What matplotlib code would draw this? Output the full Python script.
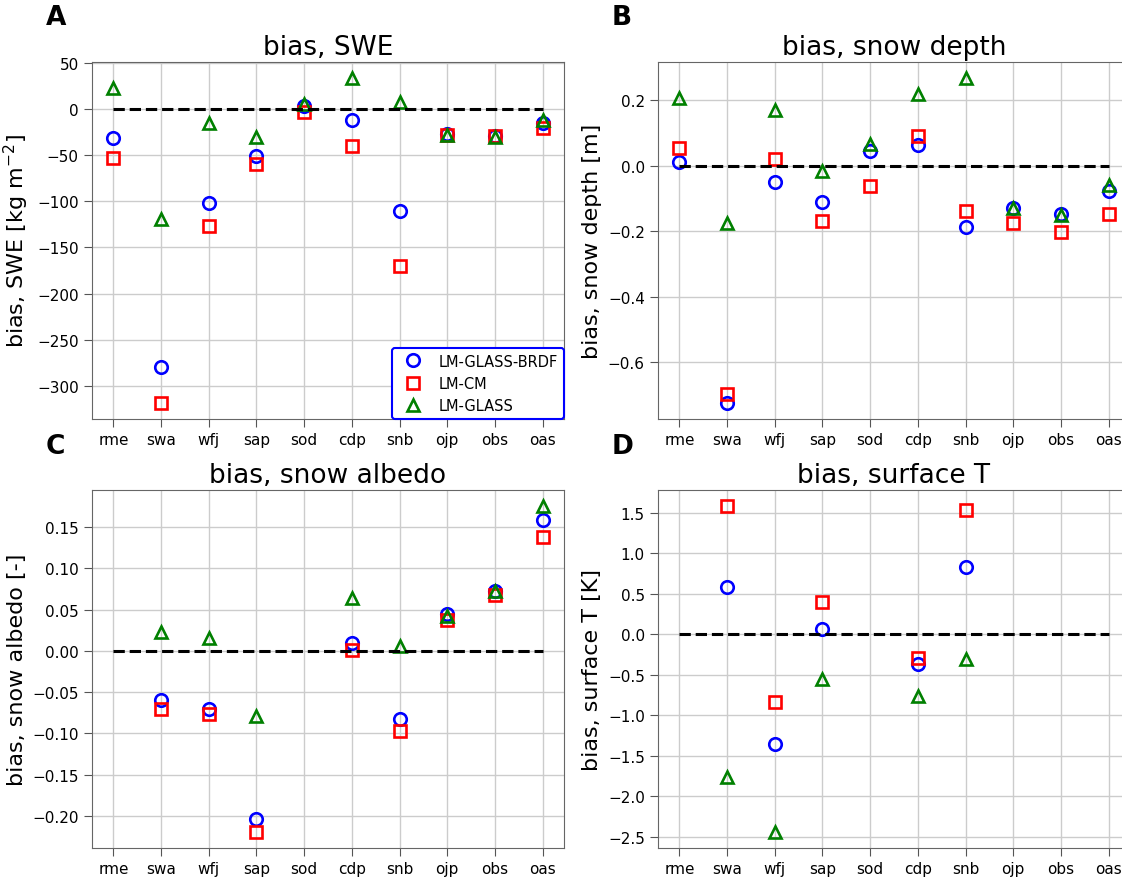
import numpy as np
import matplotlib.pyplot as plt

# sites and model runs
sites = ["rme", "swa", "wfj", "sap", "sod", "cdp", "snb", "ojp", "obs", "oas"]
runs = ["LM-GLASS-BRDF", "LM-CM", "LM-GLASS"]
nan = np.nan

# bias, SWE [kg m-2]
swe_brdf = [-31.6, -279, -102, -50.7, 3, -12.6, -111, -27, -30, -15]
swe_cm = [-53, -318, -126.5, -60, -3, -40, -170, -28, -30, -21]
swe_glass = [22, -119, -15, -30.5, 5, 33, 7, -28, -30.5, -12]

# bias, snow depth [m]
sd_brdf = [0.012, -0.723, -0.051, -0.11, 0.046, 0.063, -0.188, -0.129, -0.147, -0.078]
sd_cm = [0.054, -0.696, 0.02, -0.167, -0.063, 0.091, -0.138, -0.176, -0.203, -0.148]
sd_glass = [0.207, -0.175, 0.17, -0.017, 0.066, 0.218, 0.267, -0.129, -0.15, -0.058]

# bias, snow albedo [-]
alb_brdf = [nan, -0.060, -0.070, -0.203, nan, 0.010, -0.083, 0.044, 0.073, 0.158]
alb_cm = [nan, -0.070, -0.076, -0.219, nan, 0.001, -0.097, 0.037, 0.067, 0.138]
alb_glass = [nan, 0.023, 0.015, -0.079, nan, 0.064, 0.006, 0.042, 0.072, 0.175]

# bias, surface T [K]
ts_brdf = [nan, 0.58, -1.356, 0.058, nan, -0.374, 0.826, nan, nan, nan]
ts_cm = [nan, 1.58, -0.838, 0.395, nan, -0.288, 1.533, nan, nan, nan]
ts_glass = [nan, -1.763, -2.44, -0.555, nan, -0.768, -0.312, nan, nan, nan]

panels = [
    ("A", "bias, SWE", r"bias, SWE [kg m$^{-2}$]", swe_brdf, swe_cm, swe_glass),
    ("B", "bias, snow depth", "bias, snow depth [m]", sd_brdf, sd_cm, sd_glass),
    ("C", "bias, snow albedo", "bias, snow albedo [-]", alb_brdf, alb_cm, alb_glass),
    ("D", "bias, surface T", "bias, surface T [K]", ts_brdf, ts_cm, ts_glass),
]

W, H = 1122, 879
fig = plt.figure(figsize=(W / 100, H / 100), dpi=100)

# axes boxes in pixels: left, top, width, height
boxes = [(92, 63, 472, 357), (658, 63, 472, 357), (92, 491, 472, 358), (658, 491, 472, 358)]
letter_pos = [(46, 18), (612, 18), (46, 447), (612, 447)]

x = np.arange(len(sites))
styles = [("o", "blue"), ("s", "red"), ("^", "green")]

for (letter, title, ylabel, *series), (l, t, w, h), (lx, ly) in zip(panels, boxes, letter_pos):
    ax = fig.add_axes([l / W, 1 - (t + h) / H, w / W, h / H])
    for vals, (m, c), name in zip(series, styles, runs):
        ax.plot(x, vals, linestyle="none", marker=m, markersize=9, markerfacecolor="none",
                markeredgecolor=c, markeredgewidth=1.9, label=name)
    ax.plot(x, np.zeros(len(x)), "k--", lw=2.2)
    ax.set_xticks(x)
    ax.set_xticklabels(sites)
    ax.grid(True, color="#cccccc", lw=1)
    ax.set_axisbelow(True)
    ax.tick_params(labelsize=11, length=6, color="#555555", direction="out")
    for sp in ax.spines.values():
        sp.set_color("#666666")
    ax.set_title(title, fontsize=19)
    ax.set_ylabel(ylabel, fontsize=16)
    fig.text(lx / W, 1 - ly / H, letter, fontsize=19, fontweight="bold", va="center", ha="left")
    if letter == "A":
        leg = ax.legend(loc="lower right", fontsize=10.5, borderaxespad=0, framealpha=1)
        leg.get_frame().set_edgecolor("blue")
        leg.get_frame().set_linewidth(1.5)

fig.savefig("out.png", dpi=100)
